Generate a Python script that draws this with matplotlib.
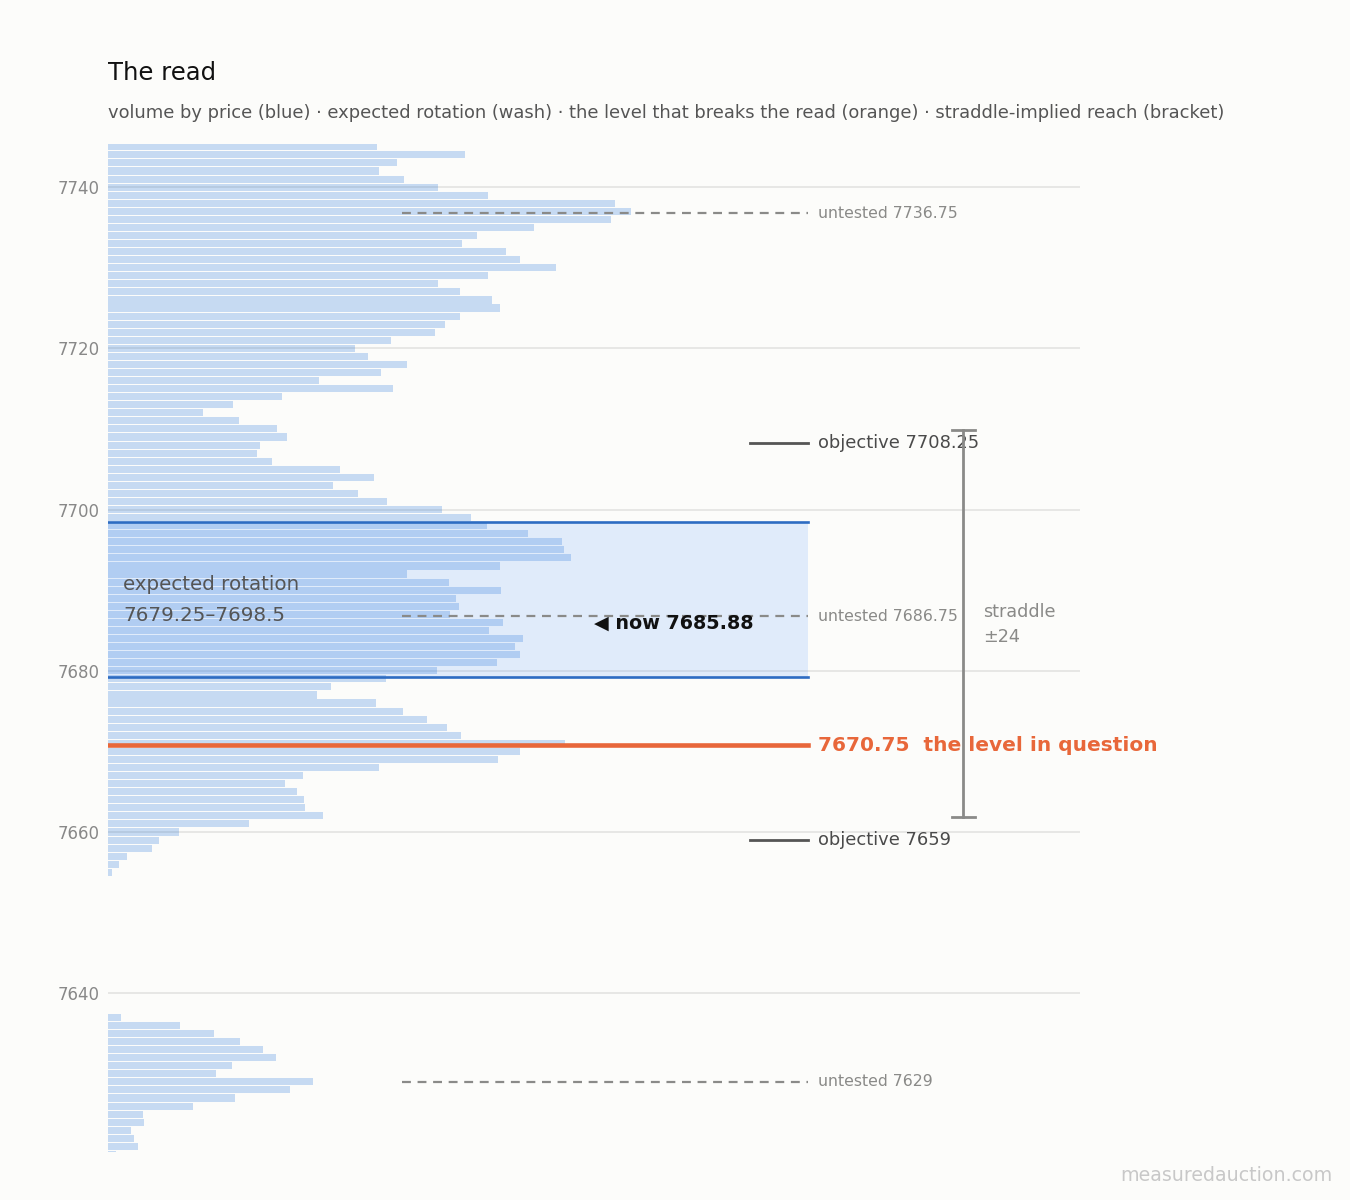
import matplotlib
matplotlib.use("Agg")
import matplotlib.pyplot as plt
from matplotlib.transforms import blended_transform_factory

plt.rcParams["font.family"] = ["DejaVu Sans"]

# ---------------- data ----------------
prices_upper = list(range(7745, 7654, -1))   # 7745 .. 7655
vol_upper = [269, 357, 289, 271, 296, 330, 380, 507, 523, 503,
             426, 369, 354, 398, 412, 448, 380, 330, 352, 384,
             392, 352, 337, 327, 283, 247, 260, 299, 273, 211,
             285, 174, 125, 95, 131, 169, 179, 152, 149, 164,
             232, 266, 225, 250, 279, 334, 363, 379, 420, 454,
             456, 463, 392, 299, 341, 393, 348, 351, 342, 395,
             381, 415, 407, 412, 389, 329, 278, 223, 209, 268,
             295, 319, 339, 353, 457, 412, 390, 271, 195, 177,
             189, 196, 197, 215, 141, 71, 51, 44, 19, 11, 4]
prices_lower = list(range(7637, 7619, -1))   # 7637 .. 7620
vol_lower = [13, 72, 106, 132, 155, 168, 124, 108, 205, 182,
             127, 85, 35, 36, 23, 26, 30, 8]

prices = prices_upper + prices_lower
volumes = vol_upper + vol_lower

y_ticks = [7640, 7660, 7680, 7700, 7720, 7740]
rotation_low, rotation_high = 7679.25, 7698.5
level_in_question = 7670.75
now_price = 7685.88
straddle = 24
objectives = [7708.25, 7659]
untested = [7736.75, 7686.75, 7629]

title = "The read"
subtitle = ("volume by price (blue) \u00b7 expected rotation (wash) \u00b7 the level that breaks "
            "the read (orange) \u00b7 straddle-implied reach (bracket)")

# ---------------- style ----------------
BG = "#fcfcfa"
BLUE = "#0a64d7"
WASH = "#1b77ff"
LINE_BLUE = "#2d6cc2"
ORANGE = "#e8673a"
GREY = "#8a8a88"
DARK = "#4a4a4a"

fig = plt.figure(figsize=(13.5, 12), dpi=100, facecolor=BG)
ax = fig.add_axes([0.08, 0.04, 0.72, 0.84], facecolor=BG)

ax.barh(prices, volumes, height=0.88, color=BLUE, alpha=0.22, lw=0, zorder=2)

ax.set_ylim(7620.3, 7745.35)
ax.set_xlim(0, max(volumes) * 1.858)
ax.set_yticks(y_ticks)
ax.set_xticks([])
ax.tick_params(axis="y", length=0, pad=6, labelsize=12, labelcolor="#888888")
for s in ax.spines.values():
    s.set_visible(False)
ax.grid(axis="y", color="#e3e3e1", lw=1.2, zorder=1)
ax.set_axisbelow(True)

trans = blended_transform_factory(ax.transAxes, ax.transData)
X_END = 0.7202
X_TXT = 0.7305

# wash for expected rotation
ax.axhspan(rotation_low, rotation_high, xmin=0, xmax=X_END, color=WASH, alpha=0.12, lw=0, zorder=1.5)
for yv in (rotation_low, rotation_high):
    ax.axhline(yv, xmin=0, xmax=X_END, color=LINE_BLUE, lw=1.9, zorder=4)
ax.text(0.0155, (rotation_low + rotation_high) / 2 - 0.1,
        "expected rotation\n%g\u2013%g" % (rotation_low, rotation_high),
        transform=trans, ha="left", va="center", fontsize=14.3, color="#555555",
        linespacing=1.8, zorder=6)

# untested levels
for u in untested:
    ax.axhline(u, xmin=0.3025, xmax=X_END, color=GREY, lw=1.6, ls=(0, (4, 3)), zorder=4)
    ax.text(X_TXT, u, "untested %g" % u, transform=trans, ha="left", va="center",
            fontsize=11.3, color=GREY, clip_on=False)

# objectives
for o in objectives:
    ax.axhline(o, xmin=0.6605, xmax=X_END, color="#555555", lw=2, zorder=4)
    ax.text(X_TXT, o, "objective %g" % o, transform=trans, ha="left", va="center",
            fontsize=12.9, color=DARK, clip_on=False)

# level in question
ax.axhline(level_in_question, xmin=0, xmax=X_END, color=ORANGE, lw=3.3, zorder=5)
ax.text(X_TXT, level_in_question, "%g  the level in question" % level_in_question,
        transform=trans, ha="left", va="center", fontsize=14.5, fontweight="bold",
        color=ORANGE, clip_on=False)

# now
ax.text(0.5, now_price, "\u25c0 now %.2f" % now_price, transform=trans, ha="left",
        va="center", fontsize=13.8, fontweight="bold", color="#111111", zorder=6)

# straddle bracket
bx = 0.8796
ax.plot([bx, bx], [now_price - straddle, now_price + straddle], transform=trans,
        color=GREY, lw=2, clip_on=False, zorder=4)
for yv in (now_price - straddle, now_price + straddle):
    ax.plot([bx - 0.0117, bx + 0.0127], [yv, yv], transform=trans, color=GREY, lw=2,
            clip_on=False, zorder=4)
ax.text(0.9002, now_price - 0.1, "straddle\n\u00b1%d" % straddle, transform=trans, ha="left",
        va="center", fontsize=12.7, color=GREY, linespacing=1.52, clip_on=False)

# titles
fig.text(0.08, 0.9395, title, ha="left", va="center", fontsize=17.5, color="#111111")
fig.text(0.08, 0.9055, subtitle, ha="left", va="center", fontsize=12.88, color="#555555")
fig.text(0.9874, 0.0208, "measuredauction.com", ha="right", va="center", fontsize=13.7,
         color="#c8c8c8")

fig.savefig("out.png", dpi=100, facecolor=BG)
